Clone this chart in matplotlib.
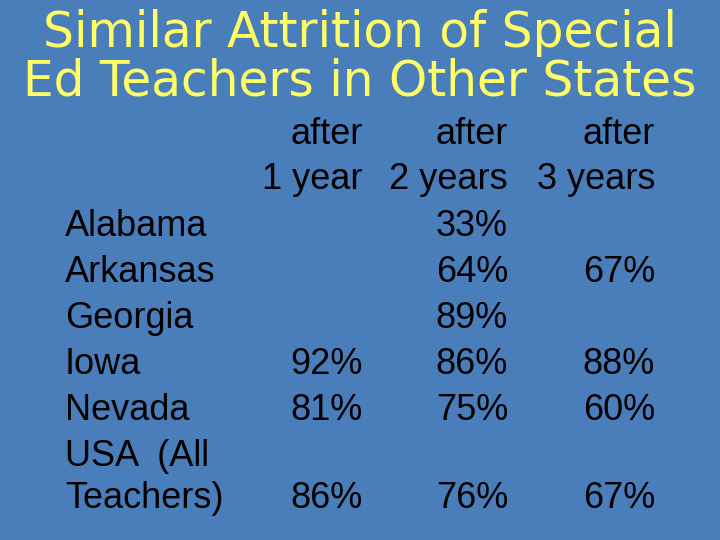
import matplotlib.pyplot as plt

title_lines = ["Similar Attrition of Special", "Ed Teachers in Other States"]
headers = [["after", "1 year"], ["after", "2 years"], ["after", "3 years"]]
row_labels = ["Alabama", "Arkansas", "Georgia", "Iowa", "Nevada", "USA  (All", "Teachers)"]
after1 = [None, None, None, 92, 81, None, 86]
after2 = [33, 64, 89, 86, 75, None, 76]
after3 = [None, 67, None, 88, 60, None, 67]

fig = plt.figure(figsize=(7.2, 5.4), dpi=100)
fig.patch.set_facecolor("#4a7ebb")
W, H = 720, 540
def T(x, y, s, **kw):
    fig.text(x / W, 1 - y / H, s, va="center", **kw)

for i, line in enumerate(title_lines):
    T(360, 33 + 48 * i, line, ha="center", fontsize=35, color="#ffff66", family="DejaVu Sans")

body = dict(fontsize=26, color="black", family="Liberation Sans")
col_x = [363, 508, 655]
for cx, hdr in zip(col_x, headers):
    T(cx, 134, hdr[0], ha="right", **body)
    T(cx, 180, hdr[1], ha="right", **body)

row_y = [226, 272, 318, 364, 410, 457, 499]
for y, lab in zip(row_y, row_labels):
    T(65, y, lab, ha="left", **body)
for cx, col in zip(col_x, [after1, after2, after3]):
    for y, v in zip(row_y, col):
        if v is not None:
            T(cx, y, f"{v}%", ha="right", **body)

fig.savefig("out.png", dpi=100, facecolor=fig.get_facecolor())
